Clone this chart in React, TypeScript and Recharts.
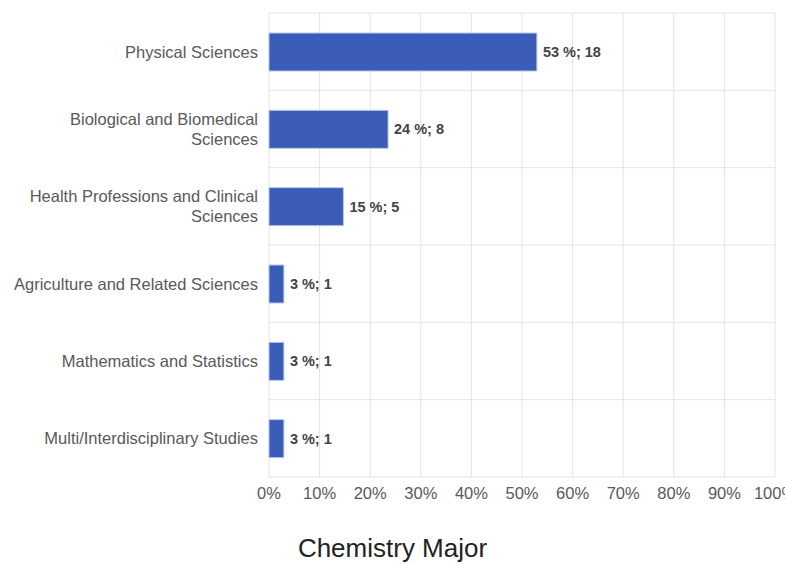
import { BarChart, Bar, XAxis, YAxis, CartesianGrid, LabelList } from "recharts";

const majors = [
  "Physical Sciences",
  "Biological and Biomedical Sciences",
  "Health Professions and Clinical Sciences",
  "Agriculture and Related Sciences",
  "Mathematics and Statistics",
  "Multi/Interdisciplinary Studies",
];

const majorLines = [
  ["Physical Sciences"],
  ["Biological and Biomedical", "Sciences"],
  ["Health Professions and Clinical", "Sciences"],
  ["Agriculture and Related Sciences"],
  ["Mathematics and Statistics"],
  ["Multi/Interdisciplinary Studies"],
];

const counts = [18, 8, 5, 1, 1, 1];

const xTicks = [0, 0.1, 0.2, 0.3, 0.4, 0.5, 0.6, 0.7, 0.8, 0.9, 1];

const total = counts.reduce((a, b) => a + b, 0);

const data = majors.map((name, i) => ({
  name,
  share: counts[i] / total,
  label: `${Math.round((counts[i] / total) * 100)} %; ${counts[i]}`,
}));

const FONT = "'Liberation Sans', Arial, sans-serif";

function MajorTick(props: any) {
  const { x, y, payload } = props;
  const idx = majors.indexOf(payload.value);
  const lines = majorLines[idx] || [payload.value];
  const start = y - ((lines.length - 1) * 20) / 2;
  return (
    <text
      x={x}
      y={start}
      textAnchor="end"
      fill="#595959"
      fontSize={16.5}
      fontFamily={FONT}
    >
      {lines.map((l: string, i: number) => (
        <tspan key={i} x={x} y={start + i * 20} dy="0.36em">
          {l}
        </tspan>
      ))}
    </text>
  );
}

export default function App() {
  return (
    <div style={{ position: "absolute", left: 0, top: 0, width: 785, height: 565, background: "#fff" }}>
      <BarChart
        width={785}
        height={565}
        data={data}
        layout="vertical"
        margin={{ top: 13, right: 10, bottom: 58, left: 0 }}
      >
        <CartesianGrid
          stroke="#e4e4e4"
          horizontalCoordinatesGenerator={({ offset }: any) =>
            majors.map((_, i) => offset.top + (i * offset.height) / majors.length).concat(offset.top + offset.height)
          }
        />
        <XAxis
          type="number"
          dataKey="share"
          domain={[0, 1]}
          ticks={xTicks}
          interval={0}
          axisLine={false}
          tickLine={false}
          tickFormatter={(v: number) => `${Math.round(v * 100)}%`}
          tick={{ fill: "#595959", fontSize: 16.5, fontFamily: FONT }}
          tickMargin={4}
        />
        <YAxis
          type="category"
          dataKey="name"
          width={269}
          axisLine={false}
          tickLine={false}
          tickMargin={5}
          interval={0}
          tick={<MajorTick />}
        />
        <Bar dataKey="share" fill="#3a5bb6" stroke="#b9c6ea" strokeWidth={1} barSize={38} isAnimationActive={false}>
          <LabelList
            dataKey="label"
            position="right"
            offset={6}
            fill="#444"
            fontSize={14.5}
            fontWeight="bold"
            fontFamily={FONT}
          />
        </Bar>
      </BarChart>
      <div
        style={{
          position: "absolute",
          left: 0,
          width: 785,
          top: 533,
          textAlign: "center",
          fontFamily: FONT,
          fontSize: 26,
          color: "#222",
          lineHeight: "30px",
        }}
      >
        Chemistry Major
      </div>
    </div>
  );
}
